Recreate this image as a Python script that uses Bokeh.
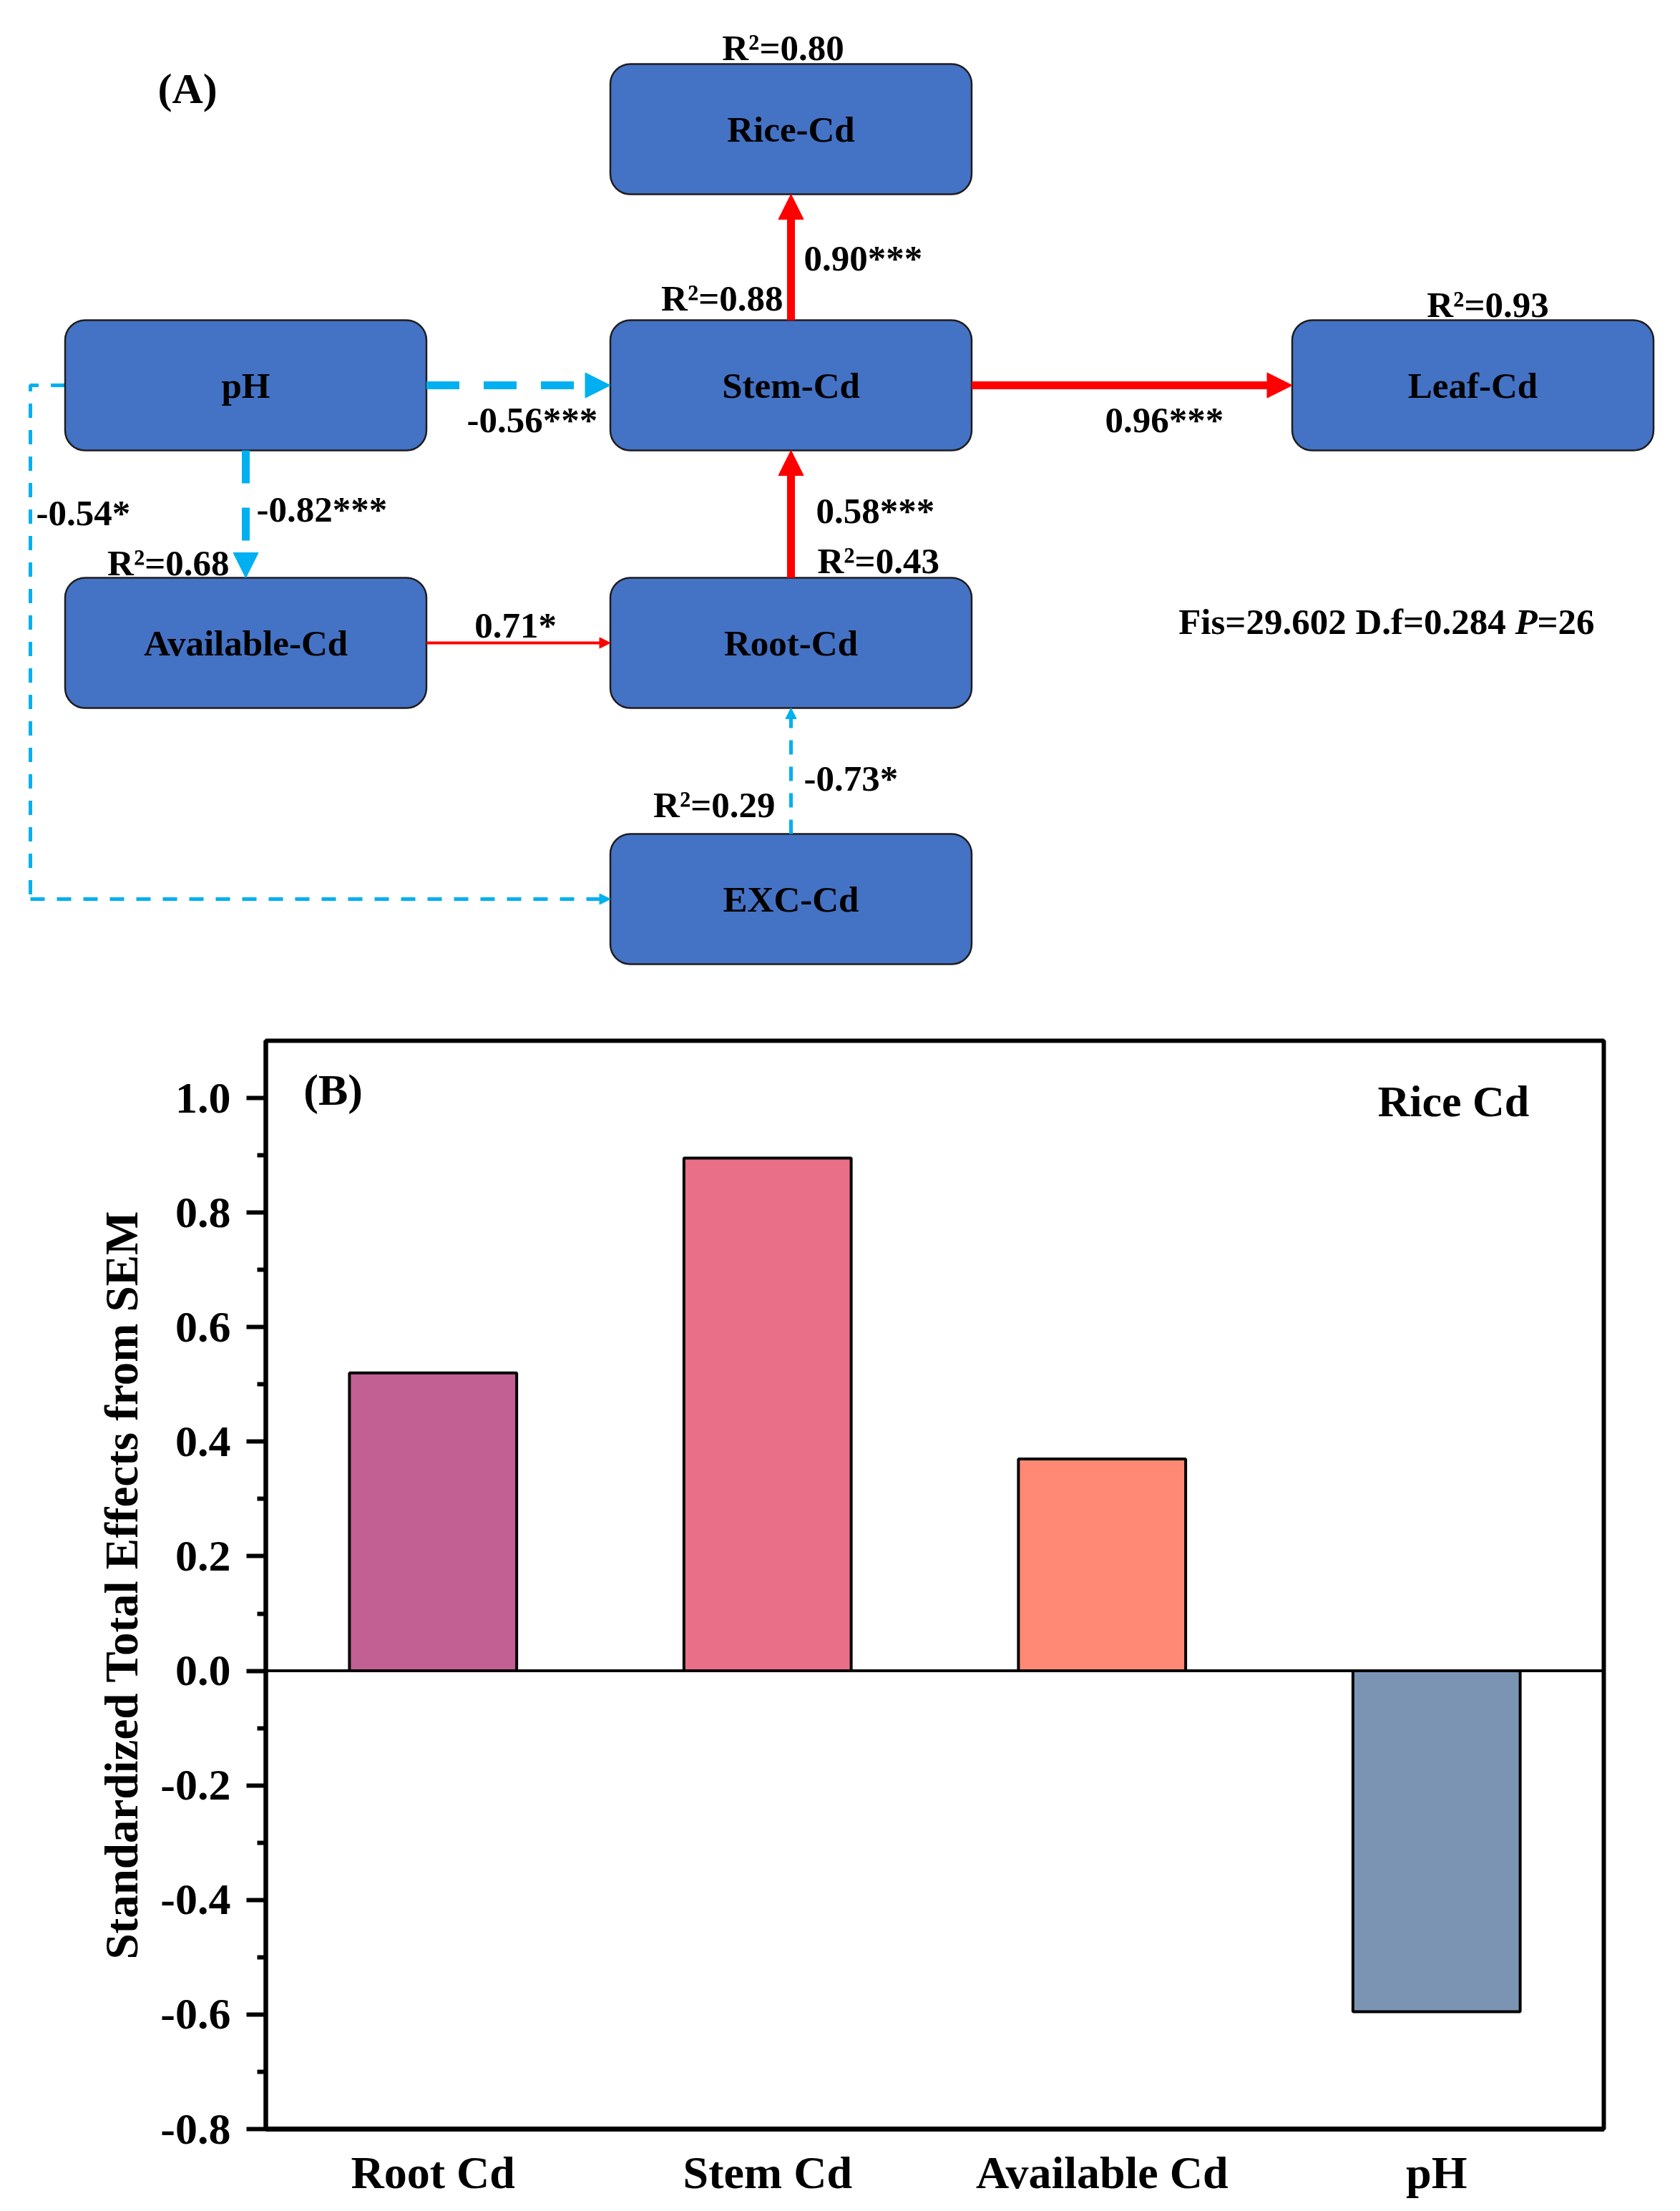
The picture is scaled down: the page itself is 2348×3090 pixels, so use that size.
from bokeh.plotting import figure
from bokeh.models import (Arrow, NormalHead, Range1d, FactorRange, Span,
                          FixedTicker, PrintfTickFormatter)
from bokeh.core.properties import value
from bokeh.embed import file_html
from bokeh.resources import INLINE

# ---------------- data ----------------
# SEM nodes and explained variance
node_names = ["Rice-Cd", "Stem-Cd", "pH", "Leaf-Cd", "Available-Cd", "Root-Cd", "EXC-Cd"]
r2_nodes = ["Rice-Cd", "Stem-Cd", "Leaf-Cd", "Available-Cd", "Root-Cd", "EXC-Cd"]
r2_values = [0.80, 0.88, 0.93, 0.68, 0.43, 0.29]

# SEM paths: source, target, standardized coefficient, significance
path_from = ["Stem-Cd", "pH", "Stem-Cd", "pH", "pH", "Available-Cd", "Root-Cd", "EXC-Cd"]
path_to = ["Rice-Cd", "Stem-Cd", "Leaf-Cd", "Available-Cd", "EXC-Cd", "Root-Cd", "Stem-Cd", "Root-Cd"]
path_coef = [0.90, -0.56, 0.96, -0.82, -0.54, 0.71, 0.58, -0.73]
path_sig = ["***", "***", "***", "***", "*", "*", "***", "*"]

fit_fis = "29.602"
fit_df = "0.284"
fit_p = "26"

# Total effects on rice Cd
categories = ["Root Cd", "Stem Cd", "Available Cd", "pH"]
effects = [0.52, 0.895, 0.37, -0.595]
bar_colors = ["#C25F93", "#E96F88", "#FF8974", "#7B94B4"]
y_major = [round(-0.8 + 0.2 * i, 1) for i in range(10)]
y_minor = [round(-0.7 + 0.2 * i, 1) for i in range(9)]

# ---------------- layout (page pixels) ----------------
FONT = value("Liberation Serif")
COL_X = [343, 1105, 2058]
ROW_Y = [180, 538, 898, 1256]
BOX_W, BOX_H = 505, 182
node_grid = {"Rice-Cd": (1, 0), "Stem-Cd": (1, 1), "pH": (0, 1), "Leaf-Cd": (2, 1),
             "Available-Cd": (0, 2), "Root-Cd": (1, 2), "EXC-Cd": (1, 3)}
ELBOW_X = 42

r2_label_pos = {"Rice-Cd": (1094, 83, "center"), "Stem-Cd": (1094, 433, "right"),
                "Leaf-Cd": (2079, 442, "center"), "Available-Cd": (320, 803, "right"),
                "Root-Cd": (1142, 800, "left"), "EXC-Cd": (1083, 1141, "right")}
coef_label_pos = [(1123, 377, "left"), (652, 603, "left"), (1544, 603, "left"),
                  (358, 728, "left"), (50, 733, "left"), (720, 890, "center"),
                  (1140, 730, "left"), (1123, 1104, "left")]

RED = "#FF0000"
CYAN = "#00B0F0"
BASE_SHIFT = 0.33  # rendered baseline correction, in em

def center(n):
    c, r = node_grid[n]
    return COL_X[c], ROW_Y[r]

# ---------------- panel A ----------------
A_H = 1418
pA = figure(width=2348, height=A_H, x_range=Range1d(0, 2348), y_range=Range1d(A_H, 0),
            output_backend="svg", toolbar_location=None, x_axis_location=None,
            y_axis_location=None, min_border=0, outline_line_color=None)
pA.grid.visible = False
pA.background_fill_color = "white"

# arrows
for src, dst, coef, sig in zip(path_from, path_to, path_coef, path_sig):
    sx, sy = center(src)
    dx, dy = center(dst)
    thick = sig == "***"
    color = RED if coef > 0 else CYAN
    lw = 11 if thick else (4 if coef > 0 else 5)
    hs = 35 if thick else 15
    dash = "solid" if coef > 0 else ("46 34" if thick else "20 17")
    if sy == dy:
        sgn = 1 if dx > sx else -1
        xs, ys = sx + sgn * BOX_W / 2, sy
        xe, ye = dx - sgn * BOX_W / 2, dy
    elif sx == dx:
        sgn = 1 if dy > sy else -1
        xs, ys = sx, sy + sgn * BOX_H / 2
        xe, ye = sx, dy - sgn * BOX_H / 2
    else:
        # elbow route around the left side
        pA.line([sx - BOX_W / 2, ELBOW_X, ELBOW_X], [sy, sy, dy],
                line_color=color, line_width=lw, line_dash=dash)
        xs, ys = ELBOW_X, dy
        xe, ye = dx - BOX_W / 2, dy
    head = NormalHead(size=hs, fill_color=color, line_color=color, line_width=1)
    pA.add_layout(Arrow(end=head, x_start=xs, y_start=ys, x_end=xe, y_end=ye,
                        line_color=color, line_width=lw, line_dash=dash))

# boxes
lefts = [center(n)[0] - BOX_W / 2 for n in node_names]
rights = [center(n)[0] + BOX_W / 2 for n in node_names]
tops = [center(n)[1] - BOX_H / 2 for n in node_names]
bottoms = [center(n)[1] + BOX_H / 2 for n in node_names]
pA.quad(left=lefts, right=rights, top=tops, bottom=bottoms, fill_color="#4472C4",
        line_color="#1E1E1E", line_width=2.5, border_radius=28)

def put(p, x, y, t, align, size=51, style="bold"):
    p.text(x=[x], y=[y - BASE_SHIFT * size], text=[t], text_font=FONT,
           text_font_style=style, text_font_size="%dpx" % size, text_align=align,
           text_baseline="alphabetic", text_color="black")

for n in node_names:
    cx, cy = center(n)
    put(pA, cx, cy + 17, n, "center")

for n, v in zip(r2_nodes, r2_values):
    x, y, a = r2_label_pos[n]
    put(pA, x, y, "R\u00b2=%.2f" % v, a)

for (x, y, a), coef, sig in zip(coef_label_pos, path_coef, path_sig):
    put(pA, x, y, "%.2f%s" % (coef, sig), a)

put(pA, 220, 143, "(A)", "left", size=60)

# fit statistics (P in italics)
P_X, FIT_Y = 2117, 885
put(pA, P_X, FIT_Y, "Fis=%s D.f=%s " % (fit_fis, fit_df), "right")
put(pA, P_X, FIT_Y, "P", "left", style="bold italic")
put(pA, P_X + 31, FIT_Y, "=%s" % fit_p, "left")

# ---------------- panel B ----------------
pB = figure(width=2348, height=3090 - A_H, x_range=FactorRange(factors=categories),
            y_range=Range1d(-0.8, 1.1), output_backend="svg", toolbar_location=None,
            min_border_left=371, min_border_right=107, min_border_top=36,
            min_border_bottom=115)
pB.grid.visible = False
pB.outline_line_color = "black"
pB.outline_line_width = 6
pB.outline_line_alpha = 1

pB.vbar(x=categories, top=effects, bottom=0, width=0.5, fill_color=bar_colors,
        line_color="black", line_width=4)
pB.add_layout(Span(location=0, dimension="width", line_color="black", line_width=4))

ya = pB.yaxis[0]
ya.ticker = FixedTicker(ticks=y_major, minor_ticks=y_minor)
ya.formatter = PrintfTickFormatter(format="%.1f")
ya.axis_label = "Standardized Total Effects from SEM"
ya.axis_label_text_font = "Liberation Serif"
ya.axis_label_text_font_style = "bold"
ya.axis_label_text_font_size = "65px"
ya.axis_label_text_color = "black"
ya.axis_label_standoff = 15
ya.major_label_text_font = "Liberation Serif"
ya.major_label_text_font_style = "bold"
ya.major_label_text_font_size = "62px"
ya.major_label_text_color = "black"
ya.major_label_standoff = 22
ya.major_tick_out = 27
ya.major_tick_in = 0
ya.minor_tick_out = 12
ya.minor_tick_in = 0
ya.axis_line_width = 6
ya.major_tick_line_width = 6
ya.minor_tick_line_width = 6

xa = pB.xaxis[0]
xa.major_label_text_font = "Liberation Serif"
xa.major_label_text_font_style = "bold"
xa.major_label_text_font_size = "64px"
xa.major_label_text_color = "black"
xa.major_label_standoff = 25
xa.major_tick_out = 0
xa.major_tick_in = 0
xa.minor_tick_out = 0
xa.axis_line_width = 7

pB.text(x=[0.113], y=[1.015], text=["(B)"], text_font=FONT, text_font_style="bold",
        text_font_size="62px", text_align="left", text_baseline="alphabetic",
        text_color="black")
pB.text(x=[3.324], y=[0.995], text=["Rice Cd"], text_font=FONT, text_font_style="bold",
        text_font_size="62px", text_align="left", text_baseline="alphabetic",
        text_color="black")

# two separate roots so the frames are not aligned with each other
open("out.html", "w").write(file_html([pA, pB], INLINE))
